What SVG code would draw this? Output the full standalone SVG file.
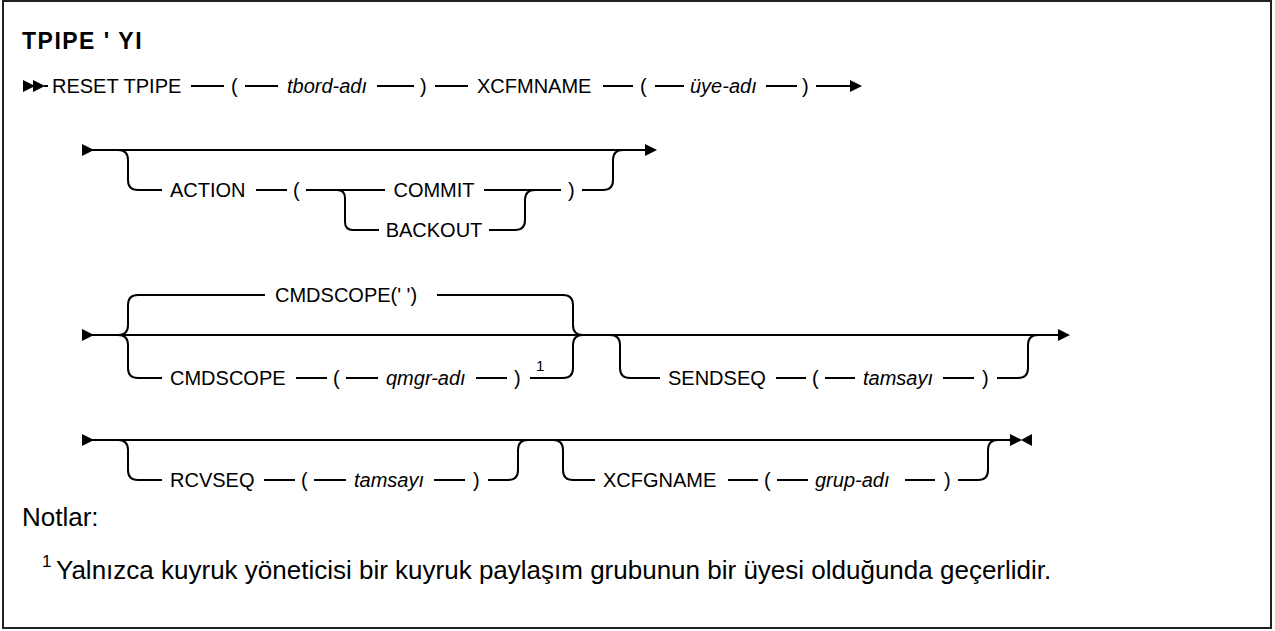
<svg xmlns="http://www.w3.org/2000/svg" xmlns:xlink="http://www.w3.org/1999/xlink" width="1275" height="631" viewBox="0 0 1275 631">
<defs>
<style>
.t{font-family:"Liberation Sans",Arial,sans-serif;font-size:20px;fill:#000}
.i{font-style:italic}
.ttl{font-family:"Liberation Sans",Arial,sans-serif;font-size:23px;font-weight:bold;letter-spacing:1.5px;fill:#000}
.sup{font-family:"Liberation Sans",Arial,sans-serif;font-size:15px;fill:#000}
.nt{font-family:"Liberation Sans",Arial,sans-serif;font-size:26px;fill:#000}
.nsup{font-family:"Liberation Sans",Arial,sans-serif;font-size:17px;fill:#000}
.ln{stroke:#000;stroke-width:2;fill:none}
.ah{fill:#000}
</style>
<path id="ar" d="M0,-6 L12,0 L0,6 Z"/>
<path id="al" d="M0,-6 L-11,0 L0,6 Z"/>
</defs>
<rect x="3" y="1" width="1268" height="627" fill="#fff" stroke="#222" stroke-width="2"/>
<g id="title"><text class="ttl" x="22" y="49">TPIPE ' YI</text></g>

<g id="connectors">
<!-- row 1 -->
<use href="#ar" class="ah" x="23" y="86"/>
<use href="#ar" class="ah" x="33" y="86"/>
<path class="ln" d="M44,86 H48 M191,86 H224 M245,86 H278 M377,86 H414 M435,86 H468 M603,86 H633 M655,86 H684 M766,86 H797 M816,86 H850"/>
<use href="#ar" class="ah" x="850" y="86"/>
<!-- row 2 -->
<use href="#ar" class="ah" x="82" y="150"/>
<path class="ln" d="M92,150 H645"/>
<use href="#ar" class="ah" x="645" y="150"/>
<path class="ln" d="M118,150 Q128,150 128,160 V180 Q128,190 138,190 H162"/>
<path class="ln" d="M256,190 H287 M306,190 H385 M337,190 Q345,190 345,198 V222 Q345,230 353,230 H379"/>
<path class="ln" d="M484,190 H561 M489,230 H515 Q525,230 525,220 V200 Q525,190 535,190"/>
<path class="ln" d="M582,190 H603 Q613,190 613,180 V160 Q613,150 623,150"/>
<!-- row 3 -->
<use href="#ar" class="ah" x="82" y="335"/>
<path class="ln" d="M92,335 H1058"/>
<use href="#ar" class="ah" x="1058" y="335"/>
<path class="ln" d="M118,335 Q128,335 128,325 V305 Q128,295 138,295 H265"/>
<path class="ln" d="M437,295 H563 Q573,295 573,305 V325 Q573,335 583,335"/>
<path class="ln" d="M118,335 Q128,335 128,345 V368 Q128,378 138,378 H162"/>
<path class="ln" d="M296,378 H327 M346,378 H378 M476,378 H507 M530,378 H563 Q573,378 573,368 V345 Q573,335 583,335"/>
<path class="ln" d="M610,335 Q620,335 620,345 V368 Q620,378 630,378 H660"/>
<path class="ln" d="M776,378 H806 M825,378 H855 M943,378 H974 M997,378 H1018 Q1028,378 1028,368 V345 Q1028,335 1038,335"/>
<!-- row 4 -->
<use href="#ar" class="ah" x="82" y="440"/>
<path class="ln" d="M92,440 H1010"/>
<use href="#ar" class="ah" x="1010" y="440"/>
<use href="#al" class="ah" x="1032" y="440"/>
<path class="ln" d="M118,440 Q128,440 128,450 V470 Q128,480 138,480 H162"/>
<path class="ln" d="M264,480 H295 M314,480 H346 M434,480 H465 M488,480 H508 Q518,480 518,470 V450 Q518,440 528,440"/>
<path class="ln" d="M553,440 Q563,440 563,450 V470 Q563,480 573,480 H595"/>
<path class="ln" d="M728,480 H758 M777,480 H808 M905,480 H935 M958,480 H978 Q988,480 988,470 V450 Q988,440 998,440"/>
</g>

<g id="n-reset"><text class="t" x="52" y="93">RESET TPIPE</text></g>
<g id="n-lp1"><text class="t" x="231" y="93">(</text></g>
<g id="n-tbord"><text class="t i" x="287" y="93">tbord-adı</text></g>
<g id="n-rp1"><text class="t" x="420" y="93">)</text></g>
<g id="n-xcfm"><text class="t" x="477" y="93">XCFMNAME</text></g>
<g id="n-lp2"><text class="t" x="640" y="93">(</text></g>
<g id="n-uye"><text class="t i" x="690" y="93">üye-adı</text></g>
<g id="n-rp2"><text class="t" x="802" y="93">)</text></g>

<g id="n-action"><text class="t" x="170" y="197">ACTION</text></g>
<g id="n-lp3"><text class="t" x="293" y="197">(</text></g>
<g id="n-commit"><text class="t" x="434" y="197" text-anchor="middle">COMMIT</text></g>
<g id="n-backout"><text class="t" x="434" y="237" text-anchor="middle">BACKOUT</text></g>
<g id="n-rp3"><text class="t" x="568" y="197">)</text></g>

<g id="n-cmddef"><text class="t" x="275" y="302">CMDSCOPE(' ')</text></g>
<g id="n-cmd"><text class="t" x="170" y="385">CMDSCOPE</text></g>
<g id="n-lp4"><text class="t" x="333" y="385">(</text></g>
<g id="n-qmgr"><text class="t i" x="386" y="385">qmgr-adı</text></g>
<g id="n-rp4"><text class="t" x="514" y="385">)</text></g>
<g id="n-note1"><text class="sup" x="536" y="371">1</text></g>
<g id="n-sendseq"><text class="t" x="668" y="385">SENDSEQ</text></g>
<g id="n-lp5"><text class="t" x="812" y="385">(</text></g>
<g id="n-tam1"><text class="t i" x="863" y="385">tamsayı</text></g>
<g id="n-rp5"><text class="t" x="982" y="385">)</text></g>

<g id="n-rcvseq"><text class="t" x="170" y="487">RCVSEQ</text></g>
<g id="n-lp6"><text class="t" x="301" y="487">(</text></g>
<g id="n-tam2"><text class="t i" x="354" y="487">tamsayı</text></g>
<g id="n-rp6"><text class="t" x="473" y="487">)</text></g>
<g id="n-xcfg"><text class="t" x="603" y="487">XCFGNAME</text></g>
<g id="n-lp7"><text class="t" x="764" y="487">(</text></g>
<g id="n-grup"><text class="t i" x="815" y="487">grup-adı</text></g>
<g id="n-rp7"><text class="t" x="944" y="487">)</text></g>

<g id="notes">
<text class="nt" x="22" y="526">Notlar:</text>
<text class="nsup" x="42" y="567">1</text>
<text class="nt" x="56" y="579">Yalnızca kuyruk yöneticisi bir kuyruk paylaşım grubunun bir üyesi olduğunda geçerlidir.</text>
</g>
</svg>
